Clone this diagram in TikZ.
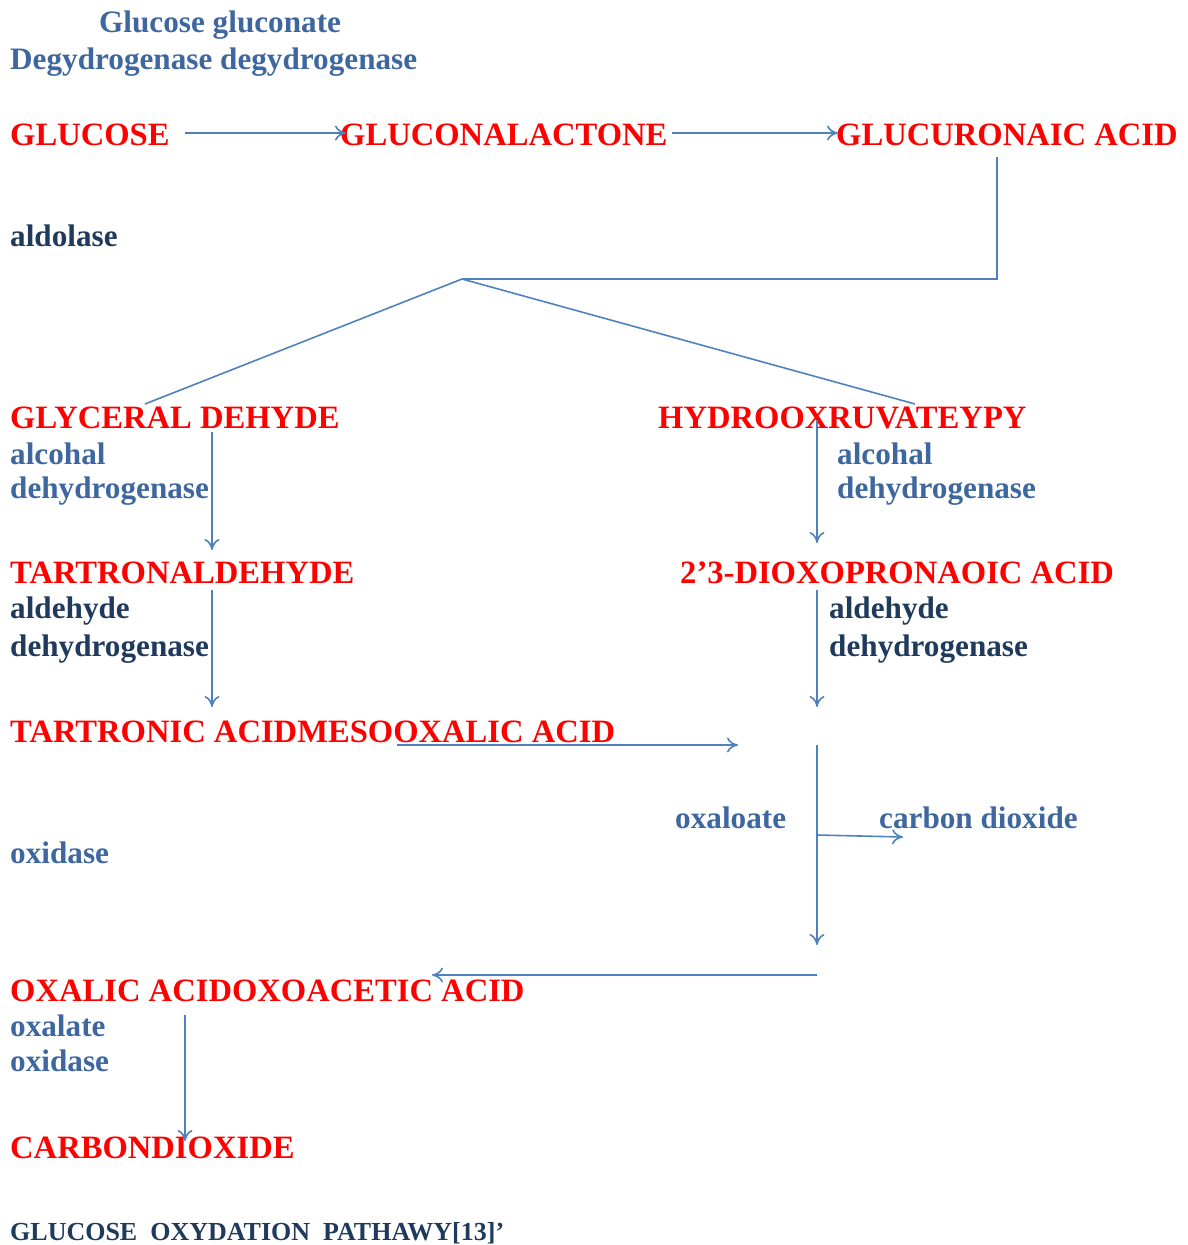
\documentclass[tikz,border=0pt]{standalone}
\usepackage{fontspec}
\setmainfont{Liberation Serif}
\usetikzlibrary{arrows.meta}
\definecolor{rd}{RGB}{255,0,0}
\definecolor{lblue}{RGB}{62,103,160}
\definecolor{dblue}{RGB}{31,58,92}
\definecolor{arr}{RGB}{79,129,189}
\tikzset{
  chem/.style={anchor=base west, inner sep=0pt, text=rd, font=\fontsize{32.6}{38}\selectfont\bfseries},
  enz/.style={anchor=base west, inner sep=0pt, text=lblue, font=\fontsize{31.2}{36}\selectfont\bfseries},
  denz/.style={anchor=base west, inner sep=0pt, text=dblue, font=\fontsize{31.2}{36}\selectfont\bfseries},
  conn/.style={draw=arr, line width=1.6pt},
  arrowc/.style={conn, -{To[length=11pt,width=15pt]}},
}
\begin{document}
\begin{tikzpicture}[x=1pt,y=-1pt]
\useasboundingbox (0,0) rectangle (1187,1245);
% texts
\node[enz] (t1) at (99,32) {Glucose gluconate};
\node[enz] (t2) at (10,69) {Degydrogenase degydrogenase};
\node[chem] (glc) at (10,145) {GLUCOSE};
\node[chem] (gla) at (340,145) {GLUCONALACTONE};
\node[chem] (gua) at (836,145) {GLUCURONAIC ACID};
\node[denz] (ald) at (10,246) {aldolase};
\node[chem] (gly) at (10,428) {GLYCERAL DEHYDE};
\node[enz] (e1a) at (10,464) {alcohal};
\node[enz] (e1b) at (10,498) {dehydrogenase};
\node[chem] (hyd) at (658,428) {HYDROOXRUVATEYPY};
\node[enz] (e2a) at (837,464) {alcohal};
\node[enz] (e2b) at (837,498) {dehydrogenase};
\node[chem] (tal) at (10,583) {TARTRONALDEHYDE};
\node[denz] (e3a) at (10,618) {aldehyde};
\node[denz] (e3b) at (10,656) {dehydrogenase};
\node[chem] (dio) at (680,583) {2’3-DIOXOPRONAOIC ACID};
\node[denz] (e4a) at (829,618) {aldehyde};
\node[denz] (e4b) at (829,656) {dehydrogenase};
\node[chem] (tar) at (10,742) {TARTRONIC ACIDMESOOXALIC ACID};
\node[enz] (oxl) at (675,828) {oxaloate};
\node[enz] (cod) at (879,828) {carbon dioxide};
\node[enz] (oxd) at (10,863) {oxidase};
\node[chem] (oxa) at (10,1001) {OXALIC ACIDOXOACETIC ACID};
\node[enz] (e5a) at (10,1036) {oxalate};
\node[enz] (e5b) at (10,1071) {oxidase};
\node[chem] (cdx) at (10,1158) {CARBONDIOXIDE};
\node[anchor=base west, inner sep=0pt, text=dblue, font=\fontsize{26}{30}\selectfont\bfseries] (cap) at (10,1240) {GLUCOSE\hspace{0.5em}OXYDATION\hspace{0.5em}PATHAWY[13]’};
% connection points
\coordinate (a1s) at (185,133);
\coordinate (a1e) at (346,133);
\coordinate (a2s) at (672,133);
\coordinate (a2e) at (838,133);
\coordinate (g1) at (997,157);
\coordinate (g2) at (997,279);
\coordinate (br) at (462,279);
\coordinate (bl) at (145,404);
\coordinate (brr) at (915,404);
\coordinate (l1s) at (212,432);
\coordinate (l1e) at (212,550);
\coordinate (r1s) at (817,420);
\coordinate (r1e) at (817,543);
\coordinate (l2s) at (212,590);
\coordinate (l2e) at (212,707);
\coordinate (r2s) at (817,590);
\coordinate (r2e) at (817,707);
\coordinate (ms) at (397,745);
\coordinate (me) at (738,745);
\coordinate (vs) at (817,745);
\coordinate (vm) at (817,835);
\coordinate (ve) at (817,945);
\coordinate (ce) at (903,837);
\coordinate (bs) at (817,975);
\coordinate (be) at (432,975);
\coordinate (fs) at (185,1015);
\coordinate (fe) at (185,1141);
% connectors
\draw[arrowc] (a1s) -- (a1e);
\draw[arrowc] (a2s) -- (a2e);
\draw[conn] (g1) -- (g2) -- (br);
\draw[conn] (br) -- (bl);
\draw[conn] (br) -- (brr);
\draw[arrowc] (l1s) -- (l1e);
\draw[arrowc] (r1s) -- (r1e);
\draw[arrowc] (l2s) -- (l2e);
\draw[arrowc] (r2s) -- (r2e);
\draw[arrowc] (ms) -- (me);
\draw[arrowc] (vs) -- (ve);
\draw[arrowc] (vm) -- (ce);
\draw[arrowc] (bs) -- (be);
\draw[arrowc] (fs) -- (fe);
\end{tikzpicture}
\end{document}
